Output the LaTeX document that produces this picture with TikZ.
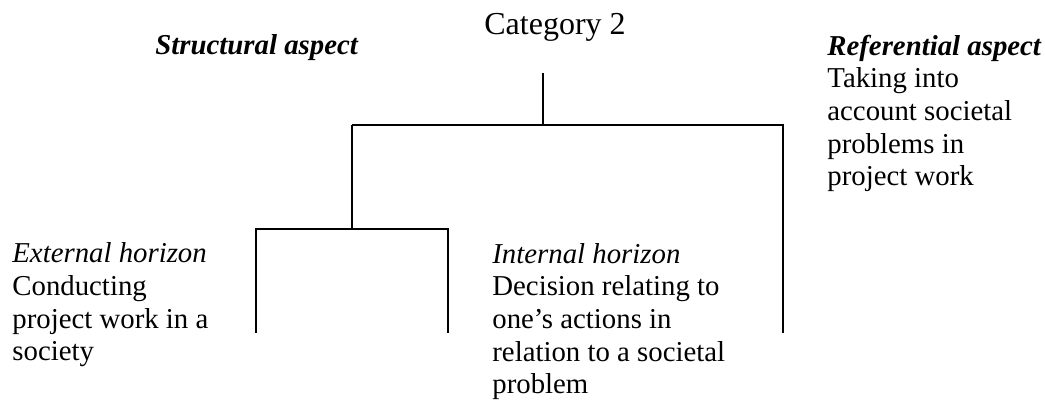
\documentclass[tikz,border=0pt]{standalone}
\usepackage{fontspec}
\setmainfont{Liberation Serif}
\tikzset{
  treeline/.style={line width=1pt, line join=miter},
  txt/.style={anchor=base west, inner sep=0pt, align=left, font=\fontsize{14.4}{16.35}\selectfont},
  cattxt/.style={anchor=base, inner sep=0pt, font=\fontsize{16}{19}\selectfont}
}
\begin{document}
\begin{tikzpicture}[x=0.5pt,y=-0.5pt]
\useasboundingbox (0,0) rectangle (1045,400);
% texts (base anchor = baseline of the last line)
\node[cattxt] (cat) at (555,35) {Category 2};
\node[txt] (struct) at (155,55) {\textbf{\textit{Structural aspect}}};
\node[txt] (ref) at (827,186) {\textbf{\textit{Referential aspect}}\\Taking into\\account societal\\problems in\\project work};
\node[txt] (ext) at (12,361) {\textit{External horizon}\\Conducting\\project work in a\\society};
\node[txt] (int) at (492,394) {\textit{Internal horizon}\\Decision relating to\\one’s actions in\\relation to a societal\\problem};
% tree
\coordinate (top) at (543,73);
\coordinate (hub) at (543,125);
\coordinate (L) at (352,125);
\coordinate (R) at (783,125);
\coordinate (Rend) at (783,333);
\coordinate (Lhub) at (352,229);
\coordinate (LL) at (256,229);
\coordinate (LR) at (448,229);
\coordinate (LLend) at (256,333);
\coordinate (LRend) at (448,333);
\draw[treeline] (top) -- (hub);
\draw[treeline] (L) -- (R) -- (Rend);
\draw[treeline] (L) -- (Lhub);
\draw[treeline] (LLend) -- (LL) -- (LR) -- (LRend);
\end{tikzpicture}
\end{document}
